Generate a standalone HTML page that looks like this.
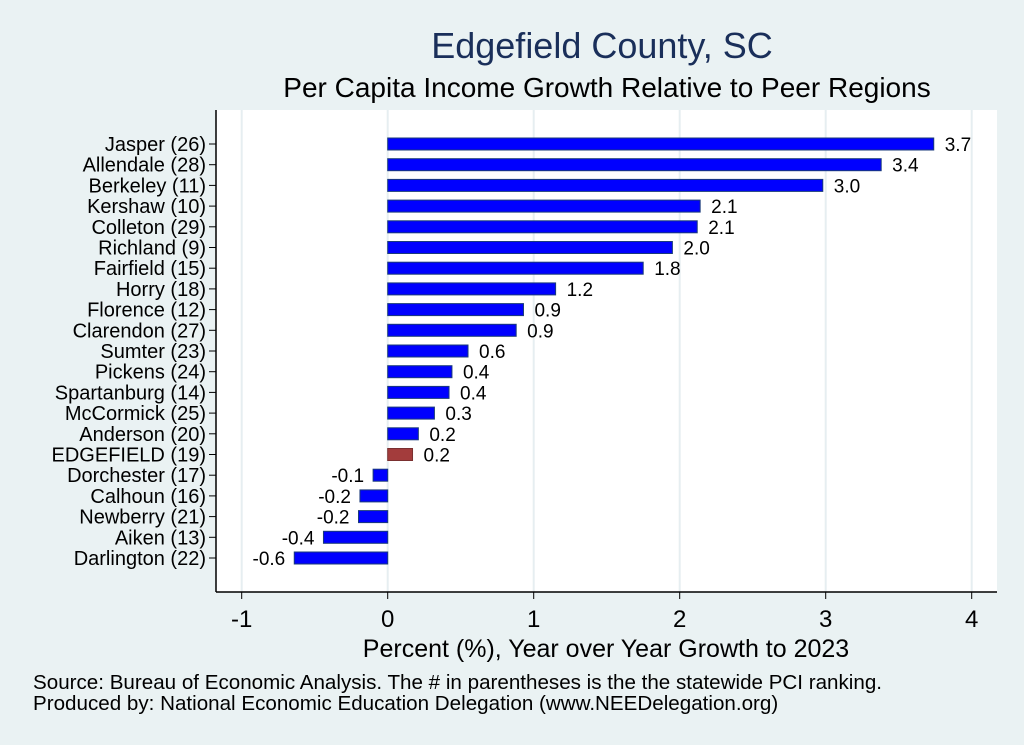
<!DOCTYPE html>
<html><head><meta charset="utf-8"><style>
body{margin:0;background:#eaf2f3;}
svg{display:block;font-family:"Liberation Sans",sans-serif;}
</style></head><body>
<svg id="c" width="1024" height="745">
<rect x="0" y="0" width="1024" height="745" fill="#eaf2f3"/>
<rect x="216" y="110" width="781" height="482" fill="#ffffff"/>
<text x="602" y="58" text-anchor="middle" font-size="36" fill="#1a2f5a">Edgefield County, SC</text>
<text x="607" y="97" text-anchor="middle" font-size="28" fill="#000">Per Capita Income Growth Relative to Peer Regions</text>
<g id="grid"></g><g id="bars"></g><g id="axis"></g>
<text x="606" y="657" text-anchor="middle" font-size="25" fill="#000">Percent (%), Year over Year Growth to 2023</text>
<text x="33" y="689" font-size="20.6" fill="#000">Source: Bureau of Economic Analysis. The # in parentheses is the the statewide PCI ranking.</text>
<text x="33" y="710" font-size="20.6" fill="#000">Produced by: National Economic Education Delegation (www.NEEDelegation.org)</text>
</svg>
<script>
const categories=["Jasper (26)","Allendale (28)","Berkeley (11)","Kershaw (10)","Colleton (29)","Richland  (9)","Fairfield (15)","Horry (18)","Florence (12)","Clarendon (27)","Sumter (23)","Pickens (24)","Spartanburg (14)","McCormick (25)","Anderson (20)","EDGEFIELD (19)","Dorchester (17)","Calhoun (16)","Newberry (21)","Aiken (13)","Darlington (22)"];
const values=[3.74,3.38,2.98,2.14,2.12,1.95,1.75,1.15,0.93,0.88,0.55,0.44,0.42,0.32,0.21,0.17,-0.1,-0.19,-0.2,-0.44,-0.64];
const valueLabels=["3.7","3.4","3.0","2.1","2.1","2.0","1.8","1.2","0.9","0.9","0.6","0.4","0.4","0.3","0.2","0.2","-0.1","-0.2","-0.2","-0.4","-0.6"];
const highlight="EDGEFIELD (19)";
const xTicks=[-1,0,1,2,3,4];
const NS="http://www.w3.org/2000/svg";
const x=v=>387.7+v*146;
const y=i=>144+i*20.7;
function mk(t,a,p){const e=document.createElementNS(NS,t);for(const k in a)e.setAttribute(k,a[k]);p.appendChild(e);return e;}
const grid=document.getElementById('grid'),bars=document.getElementById('bars'),axis=document.getElementById('axis');
xTicks.forEach(t=>{
 const g=mk('line',{x1:x(t),x2:x(t),y1:110,y2:592,stroke:'#e6eef1','stroke-width':2},grid);
 
 
 const tk=mk('line',{x1:x(t),x2:x(t),y1:592,y2:599,stroke:'#000','stroke-width':1},axis);
 
 
 const tl=mk('text',{x:x(t),y:627,'text-anchor':'middle','font-size':24},axis);
 tl.textContent=t;
 
 
});
mk('line',{x1:216,x2:997,y1:592,y2:592,stroke:'#000','stroke-width':1.5},axis);
mk('line',{x1:216,x2:216,y1:110,y2:592,stroke:'#000','stroke-width':1.5},axis);
categories.forEach((c,i)=>{
 const v=values[i],x0=Math.min(x(0),x(v)),w=Math.abs(x(v)-x(0));
 const hl=c===highlight;
 const r=mk('rect',{x:x0,y:y(i)-6,width:w,height:12,fill:hl?'#a33c3c':'#0000ff',stroke:hl?'#7a3030':'#1a3a7a','stroke-width':1},bars);
 
 
 const vl=mk('text',{x:v>=0?x(v)+11:x(v)-9,y:y(i)+7,'text-anchor':v>=0?'start':'end','font-size':19},bars);
 vl.textContent=valueLabels[i];
 
 
 const cl=mk('text',{x:206,y:y(i)+7,'text-anchor':'end','font-size':20,'xml:space':'preserve'},bars);
 cl.textContent=c;
 
 
 mk('line',{x1:209,x2:216,y1:y(i),y2:y(i),stroke:'#000'},axis);
});
</script>
</body></html>
